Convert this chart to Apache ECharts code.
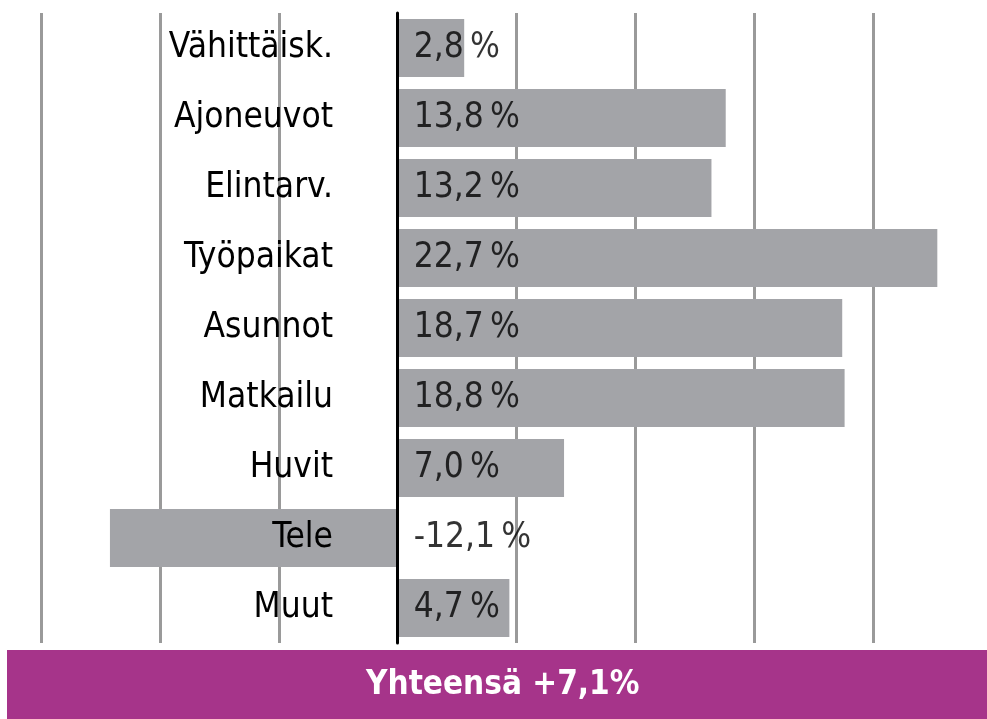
<!DOCTYPE html>
<html><head><meta charset="utf-8">
<script src="https://cdn.jsdelivr.net/npm/echarts@6/dist/echarts.min.js"></script>
<style>html,body{margin:0;padding:0;background:#fff}#c{width:987px;height:719px}</style>
</head><body><div id="c"></div>
<script>
const categories = ['Vähittäisk.', 'Ajoneuvot', 'Elintarv.', 'Työpaikat', 'Asunnot', 'Matkailu', 'Huvit', 'Tele', 'Muut'];
const values = [2.8, 13.8, 13.2, 22.7, 18.7, 18.8, 7.0, -12.1, 4.7];
const totalLabel = 'Yhteensä +7,1%';
const FONT = '"DejaVu Sans Condensed", "Liberation Sans Narrow", "DejaVu Sans", sans-serif';

function fmt(v) { return v.toFixed(1).replace('.', ',') + '\u2009%'; }

const chart = echarts.init(document.getElementById('c'), null, { renderer: 'canvas' });
chart.setOption({
  animation: false,
  grid: { left: 41, right: -5, top: 13, bottom: 76, containLabel: false, outerBoundsMode: 'none' },
  xAxis: {
    type: 'value', min: -15, max: 25, interval: 5,
    axisLabel: { show: false }, axisLine: { show: false }, axisTick: { show: false },
    splitLine: { show: true, lineStyle: { color: '#9a9a9a', width: 3 } }
  },
  yAxis: {
    type: 'category', data: categories, inverse: true, z: 5,
    axisLine: { show: true, onZero: true, lineStyle: { color: '#000', width: 3 } },
    axisTick: { show: false },
    axisLabel: { margin: -292, align: 'right', color: '#000', fontSize: 35, fontFamily: FONT }
  },
  series: [
    {
      type: 'bar', data: values, barCategoryGap: '17%',
      itemStyle: { color: '#a3a4a8' }, z: 2
    },
    {
      type: 'scatter', data: values.map((v, i) => [0, i]), symbolSize: 0, z: 6,
      label: {
        show: true, position: 'right', distance: 16, color: '#000', fontSize: 35, fontFamily: FONT,
        formatter: p => fmt(values[p.dataIndex])
      }
    }
  ],
  graphic: [
    { type: 'rect', left: 7, top: 650, shape: { width: 980, height: 69 }, style: { fill: '#a6348a' }, z: 10 },
    { type: 'text', left: 366, top: 669, z: 11,
      style: { text: totalLabel, fill: '#fff', font: 'bold 33px ' + FONT } }
  ]
});
</script></body></html>
